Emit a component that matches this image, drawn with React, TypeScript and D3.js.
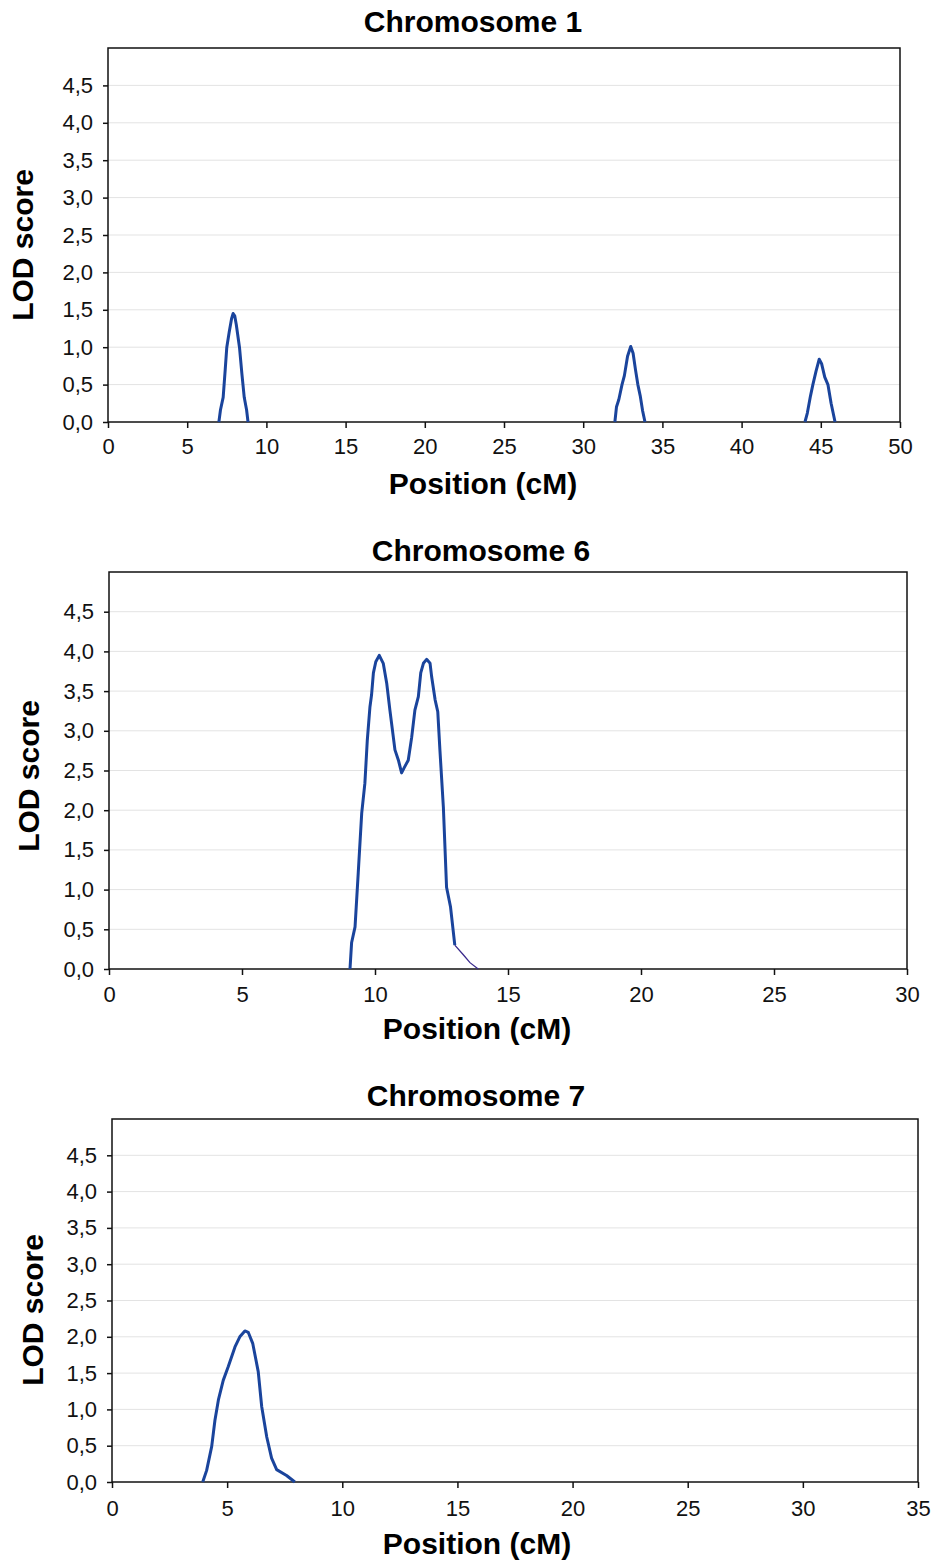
import React, { useEffect, useRef } from "react";
import * as d3 from "d3";

// chromosome 1 : three small peaks
const chr1Pos = [7.0, 7.1, 7.27, 7.4, 7.5, 7.65, 7.8, 7.9, 8.0, 8.1, 8.3, 8.45, 8.6, 8.75, 8.84,
  32.0, 32.1, 32.25, 32.45, 32.6, 32.8, 33.0, 33.15, 33.3, 33.45, 33.6, 33.75, 33.9,
  44.0, 44.15, 44.35, 44.5, 44.7, 44.9, 45.05, 45.25, 45.45, 45.65, 45.9];
const chr1Lod = [0, 0.16, 0.33, 0.7, 1.0, 1.2, 1.38, 1.45, 1.42, 1.3, 1.0, 0.65, 0.33, 0.16, 0,
  0, 0.2, 0.3, 0.5, 0.62, 0.88, 1.01, 0.92, 0.7, 0.5, 0.35, 0.15, 0,
  0, 0.12, 0.35, 0.5, 0.68, 0.84, 0.78, 0.6, 0.5, 0.25, 0];
const chr1Breaks = [15, 28]; // index where a new peak starts

// chromosome 6 : double peak
const chr6Pos = [9.06, 9.12, 9.25, 9.37, 9.5, 9.62, 9.71, 9.81, 9.87, 9.94, 10.03, 10.16, 10.31, 10.44,
  10.56, 10.75, 10.88, 11.0, 11.09, 11.25, 11.38, 11.5, 11.63, 11.72, 11.82, 11.94, 12.07, 12.13,
  12.26, 12.36, 12.44, 12.57, 12.69, 12.84, 13.0];
const chr6Lod = [0, 0.33, 0.53, 1.21, 1.96, 2.34, 2.88, 3.3, 3.45, 3.73, 3.87, 3.95, 3.85, 3.6,
  3.26, 2.76, 2.63, 2.47, 2.53, 2.63, 2.92, 3.26, 3.43, 3.73, 3.85, 3.9, 3.85, 3.68,
  3.39, 3.24, 2.76, 2.04, 1.03, 0.78, 0.3];
// thin tail of chromosome 6
const chr6TailPos = [13.0, 13.32, 13.57, 13.88];
const chr6TailLod = [0.3, 0.18, 0.08, 0];

// chromosome 7 : single peak
const chr7Pos = [3.94, 4.11, 4.33, 4.47, 4.62, 4.83, 5.05, 5.34, 5.55, 5.77, 5.92, 6.11, 6.35, 6.5,
  6.72, 6.93, 7.15, 7.58, 7.94];
const chr7Lod = [0, 0.16, 0.49, 0.85, 1.13, 1.4, 1.59, 1.86, 2.0, 2.08, 2.06, 1.91, 1.52, 1.04,
  0.62, 0.33, 0.17, 0.09, 0];

const yTicks = [0, 0.5, 1, 1.5, 2, 2.5, 3, 3.5, 4, 4.5];
const chr1XTicks = [0, 5, 10, 15, 20, 25, 30, 35, 40, 45, 50];
const chr6XTicks = [0, 5, 10, 15, 20, 25, 30];
const chr7XTicks = [0, 5, 10, 15, 20, 25, 30, 35];

const LINE = "#1a449c";
const FONT = "'Liberation Sans', Arial, sans-serif";

function split(pos, lod, breaks) {
  const out = [];
  const b = [0, ...breaks, pos.length];
  for (let i = 0; i < b.length - 1; i++) {
    const seg = [];
    for (let j = b[i]; j < b[i + 1]; j++) seg.push([pos[j], lod[j]]);
    out.push(seg);
  }
  return out;
}

function drawPanel(g, p) {
  var x = d3.scaleLinear().domain([0, p.xMax]).range([p.left, p.right]);
  var y = d3.scaleLinear().domain([0, 5]).range([p.bottom, p.top]);

  // grid
  g.selectAll(".grid")
    .data(yTicks.filter((t) => t > 0))
    .enter()
    .append("line")
    .attr("x1", p.left)
    .attr("x2", p.right)
    .attr("y1", (d) => y(d))
    .attr("y2", (d) => y(d))
    .attr("stroke", "#e3e3e3")
    .attr("stroke-width", 1);

  // box
  g.append("rect")
    .attr("x", p.left)
    .attr("y", p.top)
    .attr("width", p.right - p.left)
    .attr("height", p.bottom - p.top)
    .attr("fill", "none")
    .attr("stroke", "#111")
    .attr("stroke-width", 1.5);

  var xAxis = g
    .append("g")
    .attr("transform", "translate(0," + p.bottom + ")")
    .call(d3.axisBottom(x).tickValues(p.xTicks).tickSize(6).tickPadding(p.xPad).tickFormat(d3.format("d")));
  var yAxis = g
    .append("g")
    .attr("transform", "translate(" + p.left + ",0)")
    .call(
      d3.axisLeft(y).tickValues(yTicks).tickSize(5).tickPadding(10)
        .tickFormat((d) => d3.format(".1f")(d).replace(".", ","))
    );
  [xAxis, yAxis].forEach((a) => {
    a.select(".domain").remove();
    a.selectAll("line").attr("stroke", "#111").attr("stroke-width", 1.5);
    a.selectAll("text").attr("font-family", FONT).attr("font-size", 22).attr("fill", "#111");
  });

  var line = d3.line().x((d) => x(d[0])).y((d) => y(d[1])).curve(d3.curveLinear);

  p.series.forEach((seg) => {
    g.append("path")
      .datum(seg)
      .attr("d", line)
      .attr("fill", "none")
      .attr("stroke", LINE)
      .attr("stroke-width", 3)
      .attr("stroke-linejoin", "round");
  });
  if (p.tail) {
    g.append("path")
      .datum(p.tail)
      .attr("d", line)
      .attr("fill", "none")
      .attr("stroke", "#3a2a8c")
      .attr("stroke-width", 1.3);
  }

  g.append("text")
    .attr("x", p.titleX)
    .attr("y", p.titleY)
    .attr("text-anchor", "middle")
    .attr("font-family", FONT)
    .attr("font-weight", "bold")
    .attr("font-size", 30)
    .text(p.title);

  g.append("text")
    .attr("x", p.xTitleX)
    .attr("y", p.xTitleY)
    .attr("text-anchor", "middle")
    .attr("font-family", FONT)
    .attr("font-weight", "bold")
    .attr("font-size", 30)
    .text("Position (cM)");

  g.append("text")
    .attr("transform", "translate(" + p.yLabelX + "," + p.yLabelY + ") rotate(-90)")
    .attr("text-anchor", "middle")
    .attr("font-family", FONT)
    .attr("font-weight", "bold")
    .attr("font-size", 30)
    .text("LOD score");
}

const App = () => {
  const ref = useRef(null);

  useEffect(() => {
    const svg = d3.select(ref.current);
    svg.selectAll("*").remove();

    const panels = [
      {
        title: "Chromosome 1", xMax: 50, xTicks: chr1XTicks, xPad: 10,
        left: 108, right: 900, top: 48, bottom: 422, titleX: 473, titleY: 32,
        xTitleX: 483, xTitleY: 494, yLabelX: 33, yLabelY: 245,
        series: split(chr1Pos, chr1Lod, chr1Breaks),
      },
      {
        title: "Chromosome 6", xMax: 30, xTicks: chr6XTicks, xPad: 11,
        left: 109, right: 907, top: 572, bottom: 969, titleX: 481, titleY: 561,
        xTitleX: 477, xTitleY: 1039, yLabelX: 39, yLabelY: 776,
        series: split(chr6Pos, chr6Lod, []),
        tail: chr6TailPos.map((d, i) => [d, chr6TailLod[i]]),
      },
      {
        title: "Chromosome 7", xMax: 35, xTicks: chr7XTicks, xPad: 12,
        left: 112, right: 918, top: 1119, bottom: 1482, titleX: 476, titleY: 1106,
        xTitleX: 477, xTitleY: 1554, yLabelX: 43, yLabelY: 1310,
        series: split(chr7Pos, chr7Lod, []),
      },
    ];

    panels.forEach((p) => drawPanel(svg.append("g"), p));
  }, []);

  return (
    <svg
      ref={ref}
      width={935}
      height={1560}
      style={{ position: "absolute", left: 0, top: 0, background: "#fff" }}
    ></svg>
  );
};

export default App;
